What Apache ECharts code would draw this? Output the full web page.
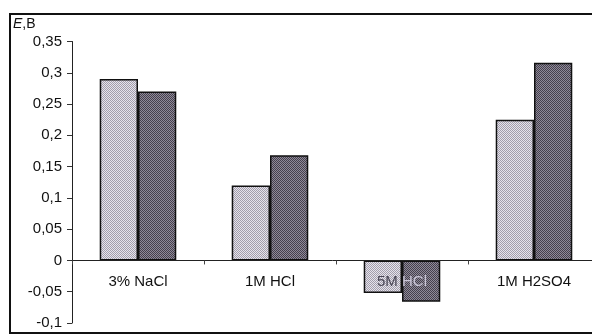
<!DOCTYPE html>
<html>
<head>
<meta charset="utf-8">
<script src="https://cdn.jsdelivr.net/npm/echarts@6/dist/echarts.min.js"></script>
<style>
  html, body { margin: 0; padding: 0; background: #fff; }
  #chart { width: 592px; height: 336px; }
</style>
</head>
<body>
<div id="chart"></div>
<script>
// Electrode potential E (V) in different media, two samples per medium
const categories = ['3% NaCl', '1M HCl', '5M HCl', '1M H2SO4'];
const seriesA = [0.29, 0.12, -0.052, 0.225];
const seriesB = [0.27, 0.168, -0.066, 0.316];
const yTicks = [-0.1, -0.05, 0, 0.05, 0.1, 0.15, 0.2, 0.25, 0.3, 0.35];

// halftone-like checker fill
function checker(c1, c2) {
  const cv = document.createElement('canvas');
  cv.width = 2; cv.height = 2;
  const ctx = cv.getContext('2d');
  ctx.fillStyle = c1; ctx.fillRect(0, 0, 2, 2);
  ctx.fillStyle = c2; ctx.fillRect(0, 0, 1, 1); ctx.fillRect(1, 1, 1, 1);
  return { image: cv, repeat: 'repeat' };
}

const fmt = v => String(+v.toFixed(2)).replace('.', ',');
const font = 'Liberation Sans, Arial, sans-serif';

const yMin = yTicks[0], yMax = yTicks[yTicks.length - 1];
const gridTop = 41.5, gridHeight = 281.5;
// the category axis sits on the zero line, labels included
const zeroOffset = gridHeight * (0 - yMin) / (yMax - yMin);

// a label lying over negative bars: first word on the light bar, second on the dark one
function catLabel(v, i) {
  if (seriesA[i] < 0 && seriesB[i] < 0) {
    const parts = v.split(' ');
    return '{onLight|' + parts[0] + ' }{onDark|' + parts.slice(1).join(' ') + '}';
  }
  return v;
}

const chart = echarts.init(document.getElementById('chart'), null, { renderer: 'canvas' });
chart.setOption({
  backgroundColor: '#fff',
  animation: false,
  graphic: [
    { type: 'rect', shape: { x: 10, y: 14, width: 620, height: 319 },
      style: { fill: 'none', stroke: '#111', lineWidth: 2 }, z: 0 },
    { type: 'text', left: 13, top: 17,
      style: { text: '{i|E},B', rich: { i: { fontStyle: 'italic', fontSize: 14, fontFamily: font, fill: '#111' } },
               fontSize: 14, fontFamily: font, fill: '#111' } }
  ],
  grid: { left: 72, top: gridTop, width: 528, height: gridHeight, containLabel: false, outerBoundsMode: 'none' },
  xAxis: {
    type: 'category',
    data: categories,
    z: 5,
    offset: -zeroOffset,
    axisLine: { onZero: false, lineStyle: { color: '#222', width: 1 } },
    axisTick: { show: true, length: 4, lineStyle: { color: '#444' } },
    axisLabel: {
      interval: 0, hideOverlap: false,
      margin: 14, fontSize: 15, fontFamily: font, color: '#111',
      formatter: catLabel,
      rich: {
        onLight: { color: '#4a4756', fontSize: 15, fontFamily: font },
        onDark: { color: '#c9c5d6', fontSize: 15, fontFamily: font }
      }
    },
    splitLine: { show: false }
  },
  yAxis: {
    type: 'value',
    min: yMin, max: yMax, interval: 0.05,
    axisLine: { show: true, lineStyle: { color: '#222', width: 1 } },
    axisTick: { show: true, length: 5, lineStyle: { color: '#333' } },
    axisLabel: { margin: 10, fontSize: 15, fontFamily: font, color: '#111', formatter: fmt },
    splitLine: { show: false }
  },
  series: [
    {
      type: 'bar', data: seriesA, barGap: 0, barCategoryGap: '42%',
      itemStyle: { color: checker('#e6e3ec', '#a29eab'), borderColor: '#111', borderWidth: 1.5 }
    },
    {
      type: 'bar', data: seriesB,
      itemStyle: { color: checker('#8f8a98', '#45404d'), borderColor: '#111', borderWidth: 1.5 }
    }
  ]
});
</script>
</body>
</html>
